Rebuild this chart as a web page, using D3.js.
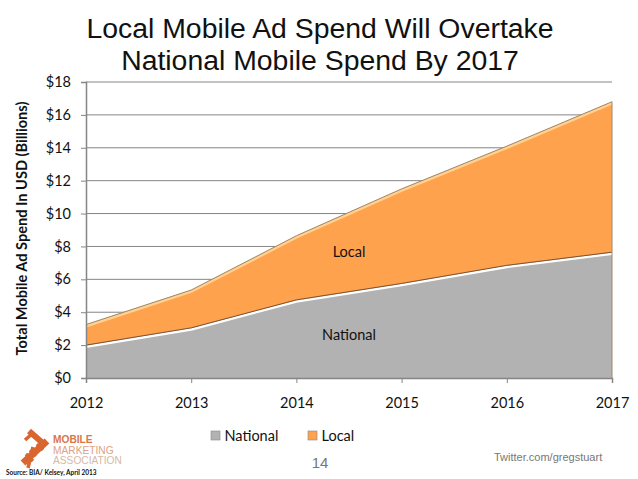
<!DOCTYPE html>
<html>
<head>
<meta charset="utf-8">
<script src="https://cdn.jsdelivr.net/npm/d3@7/dist/d3.min.js"></script>
<style>
  html, body { margin: 0; padding: 0; background: #fff; }
  svg { display: block; }
  text { font-family: Lato, sans-serif; fill: #111; }
  .sans { font-family: "Liberation Sans", Arial, sans-serif; }
</style>
</head>
<body>
<svg width="638" height="479"></svg>
<script>
var years = [2012, 2013, 2014, 2015, 2016, 2017];
var national = [2.0, 3.05, 4.75, 5.75, 6.85, 7.65];
var local = [1.25, 2.3, 3.9, 5.75, 7.25, 9.15];
var yTicks = [0, 2, 4, 6, 8, 10, 12, 14, 16, 18];
var seriesNames = ["National", "Local"];
var seriesColors = ["#b2b2b2", "#ffa24d"];

var svg = d3.select("svg");

var x = d3.scaleLinear().domain([2012, 2017]).range([86, 612]);
var y = d3.scaleLinear().domain([0, 18]).range([378, 82]);

// title
svg.selectAll(".title")
  .data(["Local Mobile Ad Spend Will Overtake", "National Mobile Spend By 2017"])
  .enter()
  .append("text")
  .attr("class", "sans")
  .attr("x", 320)
  .attr("y", function (d, i) { return 38 + i * 32; })
  .attr("text-anchor", "middle")
  .attr("font-size", 28.4)
  .text(function (d) { return d; });

// gridlines
svg.selectAll(".grid")
  .data(yTicks)
  .enter()
  .append("line")
  .attr("x1", 86)
  .attr("x2", 612)
  .attr("y1", function (d) { return y(d); })
  .attr("y2", function (d) { return y(d); })
  .attr("stroke", "#858585")
  .attr("stroke-width", 1);

var rows = years.map(function (yr, i) {
  return { year: yr, National: national[i], Local: local[i] };
});
var stacked = d3.stack().keys(seriesNames)(rows);

var area = d3.area()
  .x(function (d) { return x(d.data.year); })
  .y0(function (d) { return y(d[0]); })
  .y1(function (d) { return y(d[1]); });

var topLine = d3.line()
  .x(function (d) { return x(d.data.year); })
  .y(function (d) { return y(d[1]); });

svg.selectAll(".area")
  .data(stacked)
  .enter()
  .append("path")
  .attr("d", area)
  .attr("fill", function (d, i) { return seriesColors[i]; });

// light bevel under each top edge, dark line on the edge
svg.selectAll(".bevel")
  .data(stacked)
  .enter()
  .append("path")
  .attr("d", function (d) { return topLine(d); })
  .attr("transform", "translate(0,1.7)")
  .attr("fill", "none")
  .attr("stroke", function (d, i) { return i === 0 ? "#ffffff" : "#ffd08f"; })
  .attr("stroke-width", 2.4);

svg.selectAll(".edge")
  .data(stacked)
  .enter()
  .append("path")
  .attr("d", function (d) { return topLine(d); })
  .attr("fill", "none")
  .attr("stroke", function (d, i) { return i === 0 ? "#7d4f2a" : "#a08a6a"; })
  .attr("stroke-width", 1);

// right edge shadow
svg.append("path")
  .datum(stacked[1])
  .attr("d", function (d) {
    var last = d[d.length - 1];
    return d3.line()([[x(last.data.year), y(last[1])], [x(last.data.year), y(0)]]);
  })
  .attr("stroke", "#a08a6a")
  .attr("stroke-width", 1)
  .attr("fill", "none");

// axes
var yAxis = d3.axisLeft(y)
  .tickValues(yTicks)
  .tickSize(5)
  .tickPadding(10)
  .tickFormat(function (d) { return "$" + d; });
var gy = svg.append("g").attr("transform", "translate(86,0)").call(yAxis);

var xAxis = d3.axisBottom(x)
  .tickValues(years)
  .tickSize(5)
  .tickPadding(14.5)
  .tickFormat(d3.format("d"));
var gx = svg.append("g").attr("transform", "translate(0,378)").call(xAxis);

[gy, gx].forEach(function (g) {
  g.selectAll("path").attr("stroke", "#858585").attr("stroke-width", 1.5);
  g.selectAll("line").attr("stroke", "#858585");
  g.selectAll("text").attr("font-size", 14.5).attr("font-family", "Lato, sans-serif").attr("fill", "#111");
});

// y axis title
svg.append("text")
  .attr("transform", "translate(27,228.5) rotate(-90)")
  .attr("text-anchor", "middle")
  .attr("font-size", 14.6)
  .attr("font-weight", 700)
  .text("Total Mobile Ad Spend In USD (Billions)");

// labels inside the areas
svg.append("text").attr("x", 349).attr("y", 257).attr("text-anchor", "middle").attr("font-size", 14.5).text("Local");
svg.append("text").attr("x", 349).attr("y", 340).attr("text-anchor", "middle").attr("font-size", 14.5).text("National");

// legend
var legend = svg.selectAll(".legend")
  .data(seriesNames)
  .enter()
  .append("g")
  .attr("transform", function (d, i) { return "translate(" + [211, 308][i] + ",431)"; });
legend.append("rect")
  .attr("width", 9)
  .attr("height", 9)
  .attr("fill", function (d, i) { return seriesColors[i]; })
  .attr("stroke", "#888")
  .attr("stroke-width", 0.6);
legend.append("text")
  .attr("x", 13.5)
  .attr("y", 10)
  .attr("font-size", 14.5)
  .text(function (d) { return d; });

// footer
svg.append("text").attr("class", "sans").attr("x", 320).attr("y", 468)
  .attr("text-anchor", "middle").attr("font-size", 15).style("fill", "#777").text("14");
svg.append("text").attr("class", "sans").attr("x", 494).attr("y", 461)
  .attr("font-size", 11).style("fill", "#777").text("Twitter.com/gregstuart");
svg.append("text").attr("x", 6).attr("y", 475)
  .attr("font-size", 6.5).attr("font-weight", 700).text("Source: BIA/ Kelsey, April 2013");

// logo
var logo = svg.append("g").attr("stroke", "#d9652f").attr("fill", "none");
logo.append("path").attr("stroke-width", 7).attr("d", "M23 463 L47 441");
logo.append("path").attr("stroke-width", 6).attr("d", "M29 431 L45 445");
logo.append("path").attr("stroke-width", 3.5).attr("d", "M25 440 L33 433 M30 450 L36 456 M37 444 L43 450 M33 447 L28 468 M26 454 L33 461");
svg.selectAll(".logoText")
  .data(["MOBILE", "MARKETING", "ASSOCIATION"])
  .enter()
  .append("text")
  .attr("class", "sans")
  .attr("x", 53)
  .attr("y", function (d, i) { return 443 + i * 10.5; })
  .attr("font-size", 10.2)
  .attr("font-weight", function (d, i) { return i === 0 ? 700 : 400; })
  .style("fill", function (d, i) { return ["#d9764a", "#e0a184", "#d8b8a6"][i]; })
  .text(function (d) { return d; });
</script>
</body>
</html>
